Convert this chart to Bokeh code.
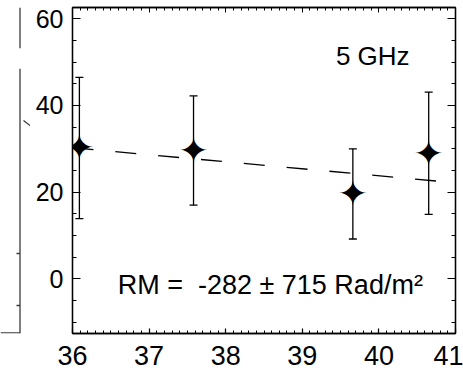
from bokeh.plotting import figure
from bokeh.layouts import row
from bokeh.models import (Range1d, LinearAxis, SingleIntervalTicker, Whisker,
                          ColumnDataSource, Label, TeeHead, CustomJSTickFormatter)
from bokeh.core.properties import value
from bokeh.embed import file_html
from bokeh.resources import INLINE

# ---- data ----
lambda_sq = [36.09, 37.58, 39.66, 40.65]      # cm^2
angle_deg = [30.2, 29.6, 19.6, 29.0]
angle_err = [16.3, 12.6, 10.4, 14.1]
fit_slope = -1.616      # deg per cm^2  (RM = -282 rad/m^2)
fit_at_36 = 30.25       # deg at 36 cm^2
fit_x = [36, 41]
band_label = "5 GHz"
rm_label = "RM = \u00a0-282 \u00b1 715 Rad/m\u00b2"

src = ColumnDataSource(dict(
    x=lambda_sq, y=angle_deg,
    upper=[a + e for a, e in zip(angle_deg, angle_err)],
    lower=[a - e for a, e in zip(angle_deg, angle_err)],
))

FONT = "Liberation Sans"
STRIP = 30   # width of the strip showing the neighbouring panel's edge

p = figure(width=463 - STRIP, height=374, x_range=Range1d(36, 41), y_range=Range1d(-12.6, 62.6),
           output_backend="svg", toolbar_location=None,
           min_border_left=72 - STRIP, min_border_right=8, min_border_top=7, min_border_bottom=41,
           background_fill_color="white", border_fill_color="white",
           outline_line_color="black", outline_line_width=1.3)
p.grid.visible = False

xt = SingleIntervalTicker(interval=1, num_minor_ticks=10)
yt = SingleIntervalTicker(interval=20, num_minor_ticks=4)

xa = p.xaxis[0]
xa.ticker = xt
ya = p.yaxis[0]
ya.ticker = yt
for ax, tin, mtin, fs, so in ((xa, 5, 3, "27px", 12), (ya, 8, 4, "25px", 9)):
    ax.axis_line_color = "black"
    ax.axis_line_width = 1.3
    ax.major_tick_line_color = "black"
    ax.minor_tick_line_color = "black"
    ax.major_tick_line_width = 1.2
    ax.minor_tick_line_width = 1.0
    ax.major_tick_in = tin
    ax.major_tick_out = 0
    ax.minor_tick_in = mtin
    ax.minor_tick_out = 0
    ax.major_label_text_font = FONT
    ax.major_label_text_font_size = fs
    ax.major_label_text_color = "black"
    ax.major_label_standoff = so

blank = CustomJSTickFormatter(code="return ''")
top = LinearAxis(ticker=xt, formatter=blank, major_tick_in=5, major_tick_out=0,
                 minor_tick_in=3, minor_tick_out=0, major_label_standoff=0,
                 major_label_text_font_size="0px", axis_line_color="black",
                 axis_line_width=1.3)
right = LinearAxis(ticker=yt, formatter=blank, major_tick_in=8, major_tick_out=0,
                   minor_tick_in=4, minor_tick_out=0, major_label_standoff=0,
                   major_label_text_font_size="0px", axis_line_color="black",
                   axis_line_width=1.3)
p.add_layout(top, "above")
p.add_layout(right, "right")

# fit line
p.line(x=fit_x, y=[fit_at_36 + fit_slope * (v - 36) for v in fit_x],
       line_color="black", line_width=1.3, line_dash="21 22")

# error bars
w = Whisker(source=src, base="x", upper="upper", lower="lower",
            line_color="black", line_width=1.3, level="underlay",
            upper_head=TeeHead(size=8, line_color="black", line_width=1.3),
            lower_head=TeeHead(size=8, line_color="black", line_width=1.3))
p.add_layout(w)

# four-pointed star markers
p.text(x="x", y="y", source=src, text=value("\u2726"), text_font=value("DejaVu Sans"),
       text_font_size=value("36px"), text_align="center", text_baseline="middle",
       text_color="black")

p.add_layout(Label(x=39.92, y=51.4, text=band_label, text_align="center",
                   text_baseline="alphabetic", text_font=FONT, text_font_size="26px",
                   text_color="black"))
p.add_layout(Label(x=36.59, y=-1.3, text=rm_label, text_align="left",
                   text_baseline="alphabetic", text_font=FONT, text_font_size="27px",
                   text_color="black"))

# ---- strip at the left: cropped edge of the neighbouring panel ----
# (decoration only; the strip's frame is aligned with the main frame, page y 7..333)
edge = figure(width=STRIP, height=374, x_range=Range1d(0, STRIP), y_range=Range1d(333, 7),
              output_backend="svg", toolbar_location=None,
              x_axis_location=None, y_axis_location=None,
              min_border=0, outline_line_color=None,
              background_fill_color="white", border_fill_color="white")
edge.grid.visible = False
edge_x0 = [19.5, 19.5, 0, 16, 16, 23]
edge_y0 = [7, 68.3, 332.4, 253, 305, 120]
edge_x1 = [19.5, 19.5, 19.5, 19.5, 19.5, 40]
edge_y1 = [47.7, 333, 332.4, 253, 305, 133]
edge.segment(x0=edge_x0, y0=edge_y0, x1=edge_x1, y1=edge_y1,
             line_color="#3a3a3a", line_width=1.3)

layout = row(edge, p, spacing=0)
open("out.html", "w").write(file_html(layout, INLINE))
